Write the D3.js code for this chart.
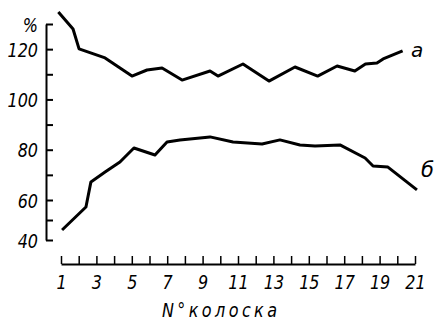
<!DOCTYPE html>
<html>
<head>
<meta charset="utf-8">
<script src="https://cdn.jsdelivr.net/npm/d3@7"></script>
<style>
  body { margin: 0; background: #fff; }
  text { font-family: "DejaVu Sans", sans-serif; font-style: oblique; fill: #000; }
</style>
</head>
<body>
<svg width="436" height="321"></svg>
<script>
// spikelet number (x) and % value for curve "а"
var spikeletA = [0.85, 1.68, 2.02, 3.49, 5.01, 5.86, 6.71, 7.84, 9.42, 9.87, 11.28, 12.75, 14.22, 15.5, 16.6, 17.6, 18.2, 18.85, 19.2, 20.3];
var valuesA = [134.8, 128.0, 120.1, 116.5, 109.3, 111.7, 112.5, 107.7, 111.3, 109.3, 114.1, 107.3, 112.9, 109.3, 113.3, 111.3, 114.1, 114.5, 116.1, 119.3];

// curve "б"
var spikeletB = [1.06, 2.41, 2.69, 3.49, 4.33, 5.12, 6.31, 6.99, 7.72, 9.42, 10.72, 12.36, 13.37, 14.5, 15.35, 16.76, 18.18, 18.63, 19.47, 21.11];
var valuesB = [45, 56.5, 67.2, 71.1, 75.1, 80.7, 77.9, 83.1, 83.9, 85.1, 83.1, 82.3, 83.9, 81.9, 81.5, 81.9, 76.7, 73.5, 73.1, 64.0];

var yTicks = [40, 50, 60, 70, 80, 90, 100, 110, 120, 130];
var xTicks = d3.range(1, 22);
var seriesNames = ["а", "б"];
var xTitle = "N°колоска";

var svg = d3.select("svg");
var squeeze = 0.8; // narrow drafting lettering

// hand drawn axis is a bit uneven below 60, so piecewise scale
var y = d3.scaleLinear().domain([40, 60, 130]).range([240, 200, 24]);
var x = d3.scaleLinear().domain([1, 21]).range([61, 415]);

// y axis, ticks pointing inwards
var yAxis = svg.append("g")
  .attr("transform", "translate(46,0)")
  .call(d3.axisLeft(y)
    .tickValues(yTicks)
    .tickSizeInner(-7)
    .tickSizeOuter(0)
    .tickPadding(8)
    .tickFormat(function(d) {
      if (d == 130) return "%";
      return d % 20 == 0 ? d : "";
    }));
yAxis.select(".domain").attr("stroke", "#000").attr("stroke-width", 2);
yAxis.selectAll(".tick line").attr("stroke", "#000").attr("stroke-width", 2);
yAxis.selectAll("text")
  .style("font-size", "20px")
  .attr("dy", "0.36em")
  .attr("x", -8 / squeeze)
  .attr("transform", "scale(" + squeeze + ",1)");

// x axis, separate from the y axis
var xAxis = svg.append("g")
  .attr("transform", "translate(0,264)")
  .call(d3.axisBottom(x)
    .tickValues(xTicks)
    .tickSizeInner(-8)
    .tickSizeOuter(0)
    .tickPadding(11)
    .tickFormat(function(d) { return d % 2 ? d : ""; }));
xAxis.select(".domain").attr("stroke", "#000").attr("stroke-width", 2);
xAxis.selectAll(".tick line").attr("stroke", "#000").attr("stroke-width", 1.5);
xAxis.selectAll("text")
  .style("font-size", "20px")
  .attr("transform", "scale(" + squeeze + ",1)");

svg.append("text")
  .attr("x", 162 / squeeze)
  .attr("y", 317)
  .attr("textLength", 115 / squeeze)
  .attr("lengthAdjust", "spacing")
  .attr("transform", "scale(" + squeeze + ",1)")
  .style("font-size", "20px")
  .text(xTitle);

var line = d3.line()
  .x(function(d) { return x(d[0]); })
  .y(function(d) { return y(d[1]); });

var curves = [d3.zip(spikeletA, valuesA), d3.zip(spikeletB, valuesB)];

svg.selectAll(".curve")
  .data(curves)
  .enter().append("path")
  .attr("class", "curve")
  .attr("d", line)
  .attr("fill", "none")
  .attr("stroke", "#000")
  .attr("stroke-width", 3)
  .attr("stroke-linejoin", "round");

// curve labels
svg.append("text").attr("x", 411).attr("y", 57).style("font-size", "20px").text(seriesNames[0]);
svg.append("text").attr("x", 421).attr("y", 177).style("font-size", "21px").text(seriesNames[1]);
</script>
</body>
</html>
